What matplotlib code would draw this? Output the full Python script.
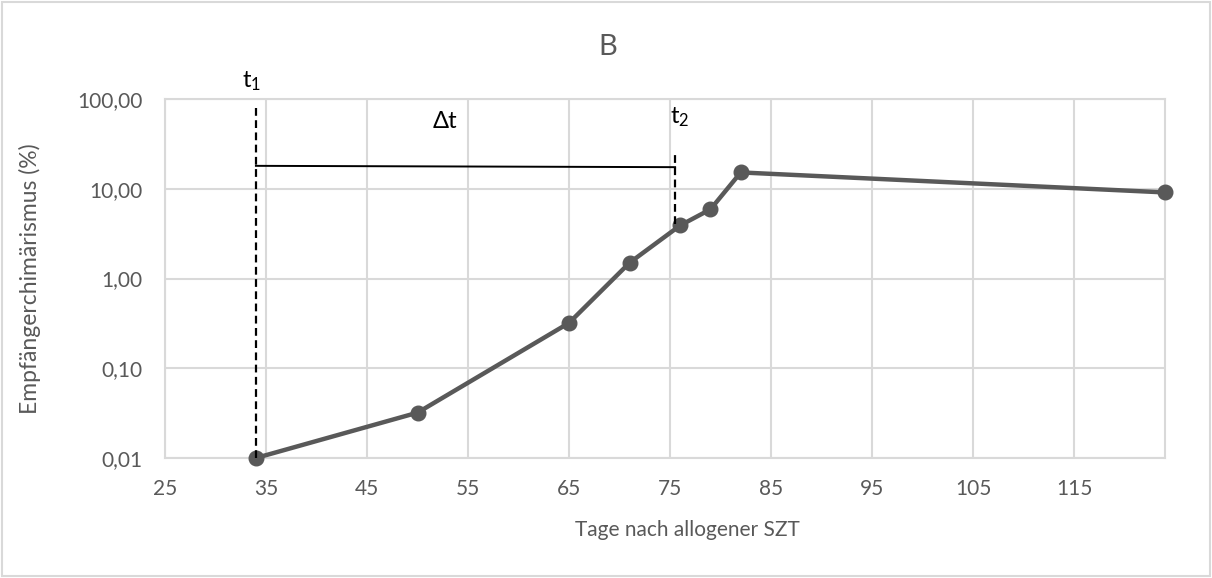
import matplotlib
matplotlib.use("Agg")
import matplotlib.pyplot as plt
from matplotlib.patches import Rectangle
from matplotlib.ticker import FixedLocator, FixedFormatter

plt.rcParams['font.family'] = ['Lato', 'DejaVu Sans']
plt.rcParams['mathtext.fontset'] = 'custom'
plt.rcParams['mathtext.rm'] = 'Lato'
plt.rcParams['mathtext.it'] = 'Lato'

# data
days = [34, 50, 65, 71, 76, 79, 82, 124]
chimerism = [0.01, 0.032, 0.32, 1.5, 3.9, 5.9, 15.2, 9.1]

x_ticks = [25, 35, 45, 55, 65, 75, 85, 95, 105, 115]
y_ticks = [0.01, 0.1, 1, 10, 100]
y_labels = ["0,01", "0,10", "1,00", "10,00", "100,00"]

# the t1 / t2 / delta-t markup
t1 = 34
t2 = 75.5
t1_top = 85
t2_top = 26
t2_bottom = 4.0
dt_left = 18.0
dt_right = 17.4

grey = "#595959"
grid_c = "#d9d9d9"

fig = plt.figure(figsize=(12.12, 5.78), dpi=100)
ax = fig.add_axes([165 / 1212, 1 - 458 / 578, 1000 / 1212, 359 / 578])

ax.set_yscale("log")
ax.set_xlim(25, 124)
ax.set_ylim(0.01, 100)

ax.xaxis.set_major_locator(FixedLocator(x_ticks))
ax.yaxis.set_major_locator(FixedLocator(y_ticks))
ax.yaxis.set_major_formatter(FixedFormatter(y_labels))
ax.yaxis.set_minor_locator(FixedLocator([]))
ax.grid(True, color=grid_c, linewidth=1.5)
ax.set_axisbelow(True)
for s in ax.spines.values():
    s.set_color(grid_c)
    s.set_linewidth(1.5)
ax.tick_params(length=0, labelsize=15, colors=grey)
ax.tick_params(axis="x", pad=15)
ax.tick_params(axis="y", pad=16)

ax.plot(days, chimerism, color=grey, linewidth=3.2, marker="o",
        markersize=10.5, zorder=3, clip_on=False)

# annotation lines
ax.plot([t1, t1], [0.01, t1_top], color="black", linestyle="--",
        linewidth=1.6, dashes=(3.5, 2), zorder=4, clip_on=False)
ax.plot([t2, t2], [t2_bottom, t2_top], color="black", linestyle="--",
        linewidth=1.6, dashes=(3.5, 2), zorder=4)
ax.plot([t1, t2], [dt_left, dt_right], color="black", linewidth=1.4, zorder=4)

ax.text(32.6, 133, r"t$_\mathrm{1}$", fontsize=17, ha="left", va="baseline",
        color="black", clip_on=False)
ax.text(52.7, 47.5, "Δt", fontsize=17, ha="center", va="baseline", color="black")
ax.text(75.0, 54, r"t$_\mathrm{2}$", fontsize=17, ha="left", va="baseline",
        color="black")

ax.set_xlabel("Tage nach allogener SZT", fontsize=15, color=grey, va="top")
ax.xaxis.set_label_coords(0.522, -0.172)
ax.set_ylabel("Empfängerchimärismus (%)", fontsize=16.5, color=grey, va="bottom")
ax.yaxis.set_label_coords(-0.124, 0.5)

fig.text(608 / 1212, 1 - 55 / 578, "B", fontsize=21, color=grey,
         ha="center", va="baseline")

fig.patches.append(Rectangle((0.002, 0.003), 0.996, 0.994, transform=fig.transFigure,
                             fill=False, edgecolor=grid_c, linewidth=1.5))

fig.savefig("out.png", dpi=100, facecolor="white")
